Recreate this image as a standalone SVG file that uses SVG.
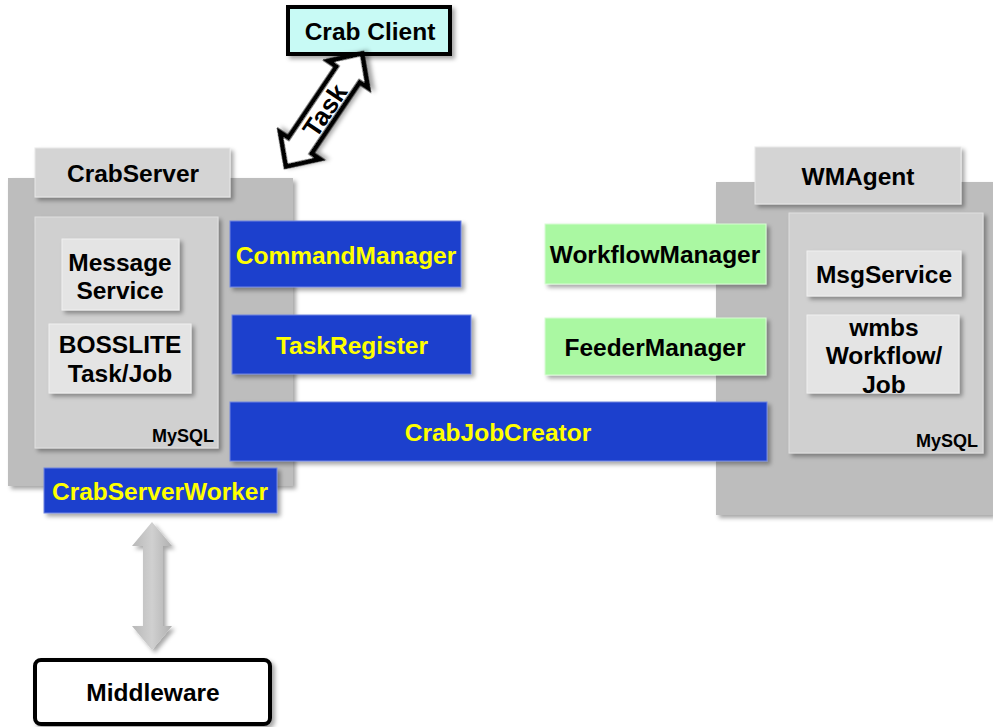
<svg xmlns="http://www.w3.org/2000/svg" width="993" height="727" viewBox="0 0 993 727">
<defs>
<filter id="sh" x="-10%" y="-10%" width="130%" height="140%">
<feDropShadow dx="3" dy="3" stdDeviation="2" flood-color="#000" flood-opacity="0.35"/>
</filter>
<linearGradient id="ga" x1="0" y1="0" x2="1" y2="0">
<stop offset="0" stop-color="#b8b8b8"/><stop offset="0.5" stop-color="#d0d0d0"/><stop offset="1" stop-color="#b0b0b0"/>
</linearGradient>
</defs>
<style>
text{font-family:"Liberation Sans",Arial,sans-serif;font-weight:bold;text-anchor:middle;dominant-baseline:central}
.t{font-size:24.5px;fill:#000}
.y{font-size:24.5px;fill:#ffff00}
.s{font-size:18px;fill:#000}
.outer{fill:#bdbdbd;filter:url(#sh)}
.hdr{fill:#d4d4d4;stroke:#e8e8e8;stroke-width:1;filter:url(#sh)}
.inner{fill:#d0d0d0;stroke:#e0e0e0;stroke-width:1;filter:url(#sh)}
.item{fill:#e4e4e4;stroke:#f0f0f0;stroke-width:1;filter:url(#sh)}
.blue{fill:#1f3fcd;stroke:#6f86e0;stroke-width:1;filter:url(#sh)}
.green{fill:#aaf8a2;stroke:#d8fcd4;stroke-width:1;filter:url(#sh)}
</style>
<g id="crabserver">
<rect class="outer" x="8" y="178" width="285" height="308"/>
<rect class="hdr" x="35" y="148" width="195" height="49"/>
<text class="t" x="133" y="173">CrabServer</text>
</g>
<g id="crabserver-mysql">
<rect class="inner" x="35" y="217" width="183" height="231"/>
<text class="s" x="183" y="436">MySQL</text>
</g>
<g id="message-service">
<rect class="item" x="62" y="239" width="117" height="71"/>
<text class="t" x="120" y="262">Message</text>
<text class="t" x="120" y="290">Service</text>
</g>
<g id="bosslite">
<rect class="item" x="49" y="324" width="142" height="69"/>
<text class="t" x="120" y="344">BOSSLITE</text>
<text class="t" x="120" y="373">Task/Job</text>
</g>
<g id="wmagent">
<rect class="outer" x="716" y="182" width="277" height="333"/>
<rect class="hdr" x="755" y="147" width="206" height="57"/>
<text class="t" x="858" y="176">WMAgent</text>
</g>
<g id="wmagent-mysql">
<rect class="inner" x="789" y="213" width="194" height="240"/>
<text class="s" x="947" y="441">MySQL</text>
</g>
<g id="msgservice">
<rect class="item" x="807" y="251" width="154" height="45"/>
<text class="t" x="884" y="274">MsgService</text>
</g>
<g id="wmbs">
<rect class="item" x="807" y="315" width="152" height="78"/>
<text class="t" x="884" y="327">wmbs</text>
<text class="t" x="884" y="355">Workflow/</text>
<text class="t" x="884" y="384">Job</text>
</g>
<g id="commandmanager">
<rect class="blue" x="230" y="221" width="231" height="66"/>
<text class="y" x="346" y="255">CommandManager</text>
</g>
<g id="taskregister">
<rect class="blue" x="232" y="315" width="239" height="59"/>
<text class="y" x="352" y="345">TaskRegister</text>
</g>
<g id="crabjobcreator">
<rect class="blue" x="230" y="402" width="537" height="59"/>
<text class="y" x="498" y="432">CrabJobCreator</text>
</g>
<g id="crabserverworker">
<rect class="blue" x="44" y="468" width="233" height="45"/>
<text class="y" x="160" y="491">CrabServerWorker</text>
</g>
<g id="workflowmanager">
<rect class="green" x="545" y="224" width="221" height="60"/>
<text class="t" x="655" y="254">WorkflowManager</text>
</g>
<g id="feedermanager">
<rect class="green" x="545" y="318" width="221" height="57"/>
<text class="t" x="655" y="347">FeederManager</text>
</g>
<g id="crabclient">
<rect x="288" y="7" width="162" height="47" fill="#c8faf5" stroke="#000" stroke-width="4" filter="url(#sh)"/>
<text class="t" x="370" y="31">Crab Client</text>
</g>
<g id="middleware">
<rect x="35" y="660" width="235" height="64" rx="6" fill="#fff" stroke="#000" stroke-width="4" filter="url(#sh)"/>
<text class="t" x="153" y="692">Middleware</text>
</g>
<g id="connectors">
<g transform="translate(324,110) rotate(-56)">
<polygon points="-68,0 -43,-24 -43,-14 43,-14 43,-24 68,0 43,24 43,14 -43,14 -43,24" fill="#fff" stroke="#000" stroke-width="5" stroke-linejoin="miter" filter="url(#sh)"/>
<text x="0" y="1" style="font-size:26px;fill:#000">Task</text>
</g>
<polygon points="152,522 172,546 163,546 163,626 172,626 152,650 132,626 143,626 143,546 132,546" fill="url(#ga)" filter="url(#sh)"/>
</g>
</svg>
